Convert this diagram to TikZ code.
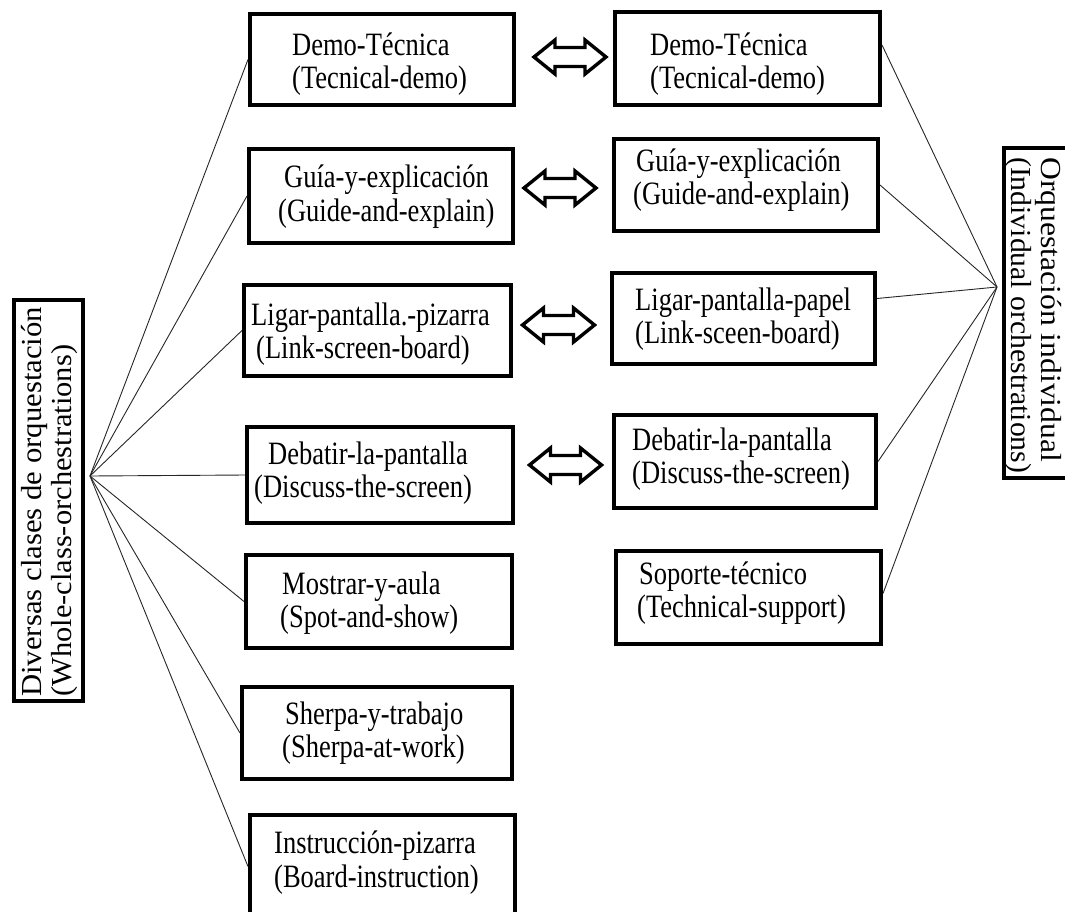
\documentclass[tikz,border=0pt]{standalone}
\usepackage{fontspec}
\setmainfont{Liberation Serif}
\usetikzlibrary{calc}
% lines of box text are drawn a little taller than wide
\newcommand\tallline[1]{\scalebox{1}[1.23]{#1}}
% a side-label line stretched to a given length, height kept
\newcommand\fitline[2]{\resizebox{#1}{\height}{#2}}
% hollow two-headed arrow centred on a coordinate
\newcommand\twowayarrow[1]{%
  \draw[twoway, shift={(#1)}] (-36,0) -- (-15,-17) -- (-15,-9.5) -- (15,-9.5)
    -- (15,-17) -- (36,0) -- (15,17) -- (15,9.5) -- (-15,9.5) -- (-15,17) -- cycle;}
\begin{document}
\begin{tikzpicture}[x=1pt,y=-1pt,
  boxnode/.style={draw=black, line width=4pt, inner sep=0pt, rectangle},
  boxtext/.style={inner sep=0pt, anchor=west, align=left,
    font=\fontsize{26.5}{33.3}\selectfont},
  sidetext/.style={inner sep=0pt, anchor=west, align=left,
    font=\fontsize{29}{30}\selectfont},
  spoke/.style={line width=0.9pt, black!85},
  twoway/.style={line width=3.4pt, line join=miter, black}]
\useasboundingbox (0,0) rectangle (1065,911);

% side boxes
\node[boxnode, minimum width=69pt, minimum height=401pt] (vl) at (48.5,500.5) {};
\node[sidetext, rotate=90] (vlt) at (50,697)
  {\fitline{390pt}{Diversas clases de orquestación}\\\fitline{352pt}{(Whole-class-orchestrations)}};
\node[boxnode, minimum width=69pt, minimum height=330pt] (vr) at (1038.5,313) {};
\node[sidetext, rotate=-90] (vrt) at (1033,157)
  {\fitline{305pt}{Orquestación individual}\\\fitline{316pt}{(Individual orchestrations)}};

% whole-class column
\node[boxnode, minimum width=264pt, minimum height=91pt] (l1) at (382,59.5) {};
\node[boxnode, minimum width=264pt, minimum height=94pt] (l2) at (381,196) {};
\node[boxnode, minimum width=267pt, minimum height=91pt] (l3) at (377.5,330.5) {};
\node[boxnode, minimum width=266pt, minimum height=96pt] (l4) at (380,475) {};
\node[boxnode, minimum width=266pt, minimum height=93pt] (l5) at (379,601.5) {};
\node[boxnode, minimum width=270pt, minimum height=92pt] (l6) at (377,733) {};
\node[boxnode, minimum width=265pt, minimum height=103pt] (l7) at (382.5,866.5) {};

\node[boxtext] (l1t) at (292,64) {\tallline{Demo-Técnica}\\\tallline{(Tecnical-demo)}};
\node[boxtext] (l2t) at (278,196.5) {\hspace*{6pt}\tallline{Guía-y-explicación}\\\tallline{(Guide-and-explain)}};
\node[boxtext] (l3t) at (251,334.5) {\tallline{Ligar-pantalla.-pizarra}\\\hspace*{5pt}\tallline{(Link-screen-board)}};
\node[boxtext] (l4t) at (254,473.5) {\hspace*{14pt}\tallline{Debatir-la-pantalla}\\\tallline{(Discuss-the-screen)}};
\node[boxtext] (l5t) at (280,603) {\hspace*{2pt}\tallline{Mostrar-y-aula}\\\tallline{(Spot-and-show)}};
\node[boxtext] (l6t) at (282,733) {\hspace*{3pt}\tallline{Sherpa-y-trabajo}\\\tallline{(Sherpa-at-work)}};
\node[boxtext] (l7t) at (274,862.5) {\tallline{Instrucción-pizarra}\\\tallline{(Board-instruction)}};

% individual column
\node[boxnode, minimum width=265pt, minimum height=93pt] (r1) at (747.5,58.5) {};
\node[boxnode, minimum width=264pt, minimum height=92pt] (r2) at (746,185) {};
\node[boxnode, minimum width=263pt, minimum height=91pt] (r3) at (743.5,318.5) {};
\node[boxnode, minimum width=262pt, minimum height=93pt] (r4) at (745,461.5) {};
\node[boxnode, minimum width=265pt, minimum height=93pt] (r5) at (748.5,597.5) {};

\node[boxtext] (r1t) at (650,64) {\tallline{Demo-Técnica}\\\tallline{(Tecnical-demo)}};
\node[boxtext] (r2t) at (633,180) {\hspace*{3pt}\tallline{Guía-y-explicación}\\\tallline{(Guide-and-explain)}};
\node[boxtext] (r3t) at (635,319) {\tallline{Ligar-pantalla-papel}\\\tallline{(Link-sceen-board)}};
\node[boxtext] (r4t) at (632,459) {\tallline{Debatir-la-pantalla}\\\tallline{(Discuss-the-screen)}};
\node[boxtext] (r5t) at (637,593) {\hspace*{2pt}\tallline{Soporte-técnico}\\\tallline{(Technical-support)}};

% two-way arrows between the columns
\coordinate (a1) at (570,57);
\coordinate (a2) at (560,188);
\coordinate (a3) at (558.5,325);
\coordinate (a4) at (565.5,465);
\twowayarrow{a1}
\twowayarrow{a2}
\twowayarrow{a3}
\twowayarrow{a4}

% fan-out spokes
\coordinate (hubL) at (90,476);
\coordinate (hubR) at (997,287);
\foreach \n in {l1,l2,l3,l4,l5,l6,l7}
  \draw[spoke] (hubL) -- (\n.west);
\draw[spoke] ([yshift=13.5pt]r1.east) -- (hubR);
\draw[spoke] (r2.east) -- (hubR);
\draw[spoke] ([yshift=20pt]r3.east) -- (hubR);
\draw[spoke] (r4.east) -- (hubR);
\draw[spoke] ([yshift=4pt]r5.east) -- (hubR);
\end{tikzpicture}
\end{document}
